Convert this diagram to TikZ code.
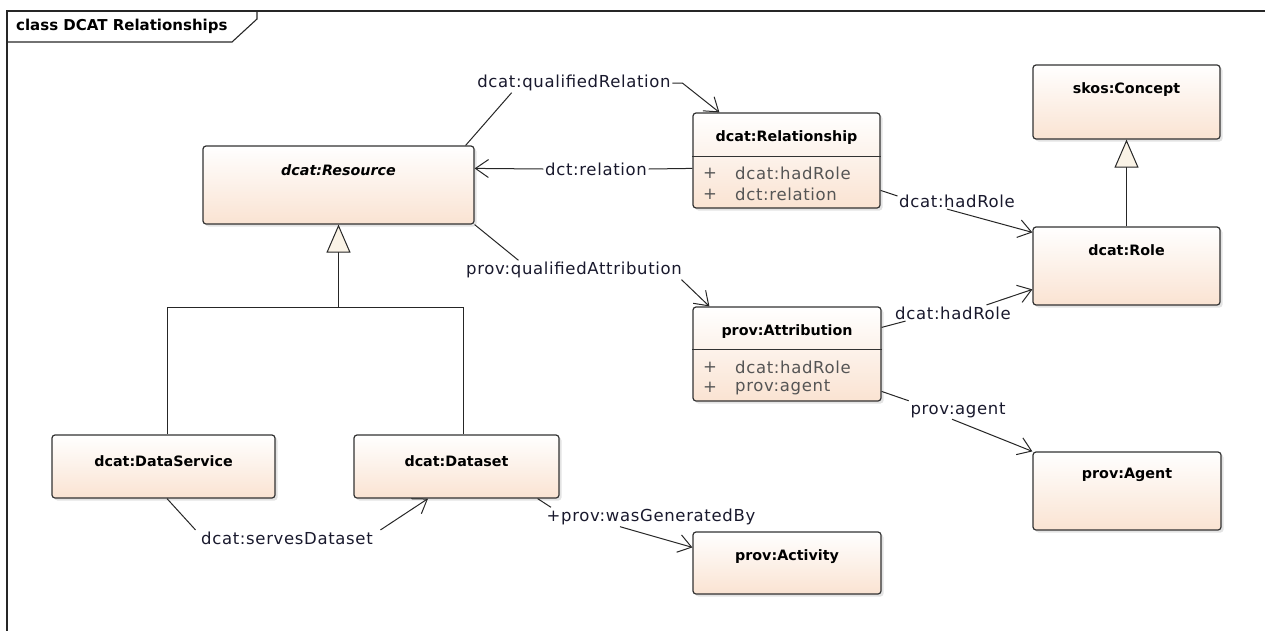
\documentclass[tikz,border=0pt]{standalone}
\usepackage{fontspec}
\setmainfont{DejaVu Sans}
\newfontfamily\lblfont[LetterSpace=4]{DejaVu Sans}
\usepackage{xcolor}
\usetikzlibrary{arrows.meta,shadows,positioning}

\definecolor{clsfill}{RGB}{250,227,210}
\definecolor{clsline}{RGB}{50,50,50}
\definecolor{attrgray}{RGB}{85,85,85}
\definecolor{gencream}{RGB}{250,243,230}
\definecolor{lbltext}{RGB}{25,25,45}

\tikzset{
  cls/.style={draw=clsline, line width=1.2pt, rounded corners=3pt, inner sep=0pt,
    top color=white, bottom color=clsfill,
    drop shadow={shadow xshift=2.5pt, shadow yshift=-2.5pt, opacity=0.22}},
  ctitle/.style={font=\fontsize{14.3}{16}\selectfont\bfseries, inner sep=0pt},
  attrtext/.style={font=\lblfont\fontsize{16.5}{19}\selectfont, text=attrgray, inner sep=0pt, anchor=west},
  lbl/.style={font=\lblfont\fontsize{16.5}{19}\selectfont, text=lbltext, inner sep=1.5pt},
  assoc/.style={draw=black!85, line width=1pt},
  arr/.style={assoc, -{Straight Barb[length=13pt, width=18pt, line width=1pt]}},
  gen/.style={draw=black!85, line width=1pt, -{Triangle[length=28pt, width=24pt, fill=gencream, line width=1pt]}}
}

\begin{document}
\begin{tikzpicture}[x=1pt, y=-1pt]
  \useasboundingbox (0,0) rectangle (1265,630);

  % frame
  \draw[line width=1.1pt, draw=black!85] (7,645) -- (7,11) -- (1275,11);
  \draw[line width=1.1pt, draw=black!85] (7,42) -- (232,42) -- (257,19) -- (257,11);
  \node[ctitle, font=\fontsize{15}{17}\selectfont\bfseries, anchor=west] (frametitle) at (16,26) {class DCAT Relationships};

  % classes
  \node[cls, minimum width=271, minimum height=78] (res) at (338.5,185) {};
  \node[ctitle] (resT) at (338.5,170) {\itshape dcat:Resource};

  \node[cls, minimum width=187, minimum height=95] (rel) at (786.5,160.5) {};
  \node[ctitle] (relT) at (786.5,138) {dcat:Relationship};
  \draw[draw=clsline, line width=1.2pt] ([yshift=-44pt]rel.north west) -- ([yshift=-44pt]rel.north east);
  \node[attrtext] (relP1) at (703,173) {+};
  \node[attrtext] (relA1) at (735,173) {dcat:hadRole};
  \node[attrtext] (relP2) at (703,194) {+};
  \node[attrtext] (relA2) at (735,194) {dct:relation};

  \node[cls, minimum width=187, minimum height=74] (concept) at (1126.5,102) {};
  \node[ctitle] (conceptT) at (1126.5,90) {skos:Concept};

  \node[cls, minimum width=187, minimum height=78] (role) at (1126.5,266) {};
  \node[ctitle] (roleT) at (1126.5,250) {dcat:Role};

  \node[cls, minimum width=188, minimum height=94] (attr) at (787,354) {};
  \node[ctitle] (attrT) at (787,332) {prov:Attribution};
  \draw[draw=clsline, line width=1.2pt] ([yshift=-43pt]attr.north west) -- ([yshift=-43pt]attr.north east);
  \node[attrtext] (attrP1) at (703,367) {+};
  \node[attrtext] (attrA1) at (735,367) {dcat:hadRole};
  \node[attrtext] (attrP2) at (703,387) {+};
  \node[attrtext] (attrA2) at (735,387) {prov:agent};

  \node[cls, minimum width=188, minimum height=78] (agent) at (1127,491) {};
  \node[ctitle] (agentT) at (1127,475) {prov:Agent};

  \node[cls, minimum width=188, minimum height=62] (act) at (787,563) {};
  \node[ctitle] (actT) at (787,557) {prov:Activity};

  \node[cls, minimum width=223, minimum height=63] (dsvc) at (163.5,466.5) {};
  \node[ctitle] (dsvcT) at (163.5,461) {dcat:DataService};

  \node[cls, minimum width=205, minimum height=63] (dset) at (456.5,466.5) {};
  \node[ctitle] (dsetT) at (456.5,461) {dcat:Dataset};

  % generalizations
  \coordinate (genbar) at (338.5,307);
  \draw[gen] ([xshift=3.5pt]dsvc.north) |- (genbar) -- (res.south);
  \draw[gen, -] ([xshift=6.5pt]dset.north) |- (genbar);
  \draw[gen] (role.north) -- (concept.south);

  % associations
  \node[lbl] (qrel) at (574,83) {dcat:qualifiedRelation};
  \draw[assoc] ([xshift=-9pt]res.north east) -- ([xshift=36pt]qrel.south west);
  \draw[arr] (qrel.east) -- ++(10,0) -- ([xshift=27pt]rel.north west);

  \node[lbl] (drel) at (596,169) {dct:relation};
  \draw[assoc] ([yshift=-56pt]rel.north west) -- (drel.east);
  \draw[arr] (drel.west) -- ([yshift=-23pt]res.north east);

  \node[lbl] (qatt) at (574,270) {prov:qualifiedAttribution};
  \draw[assoc] (res.south east) -- ([xshift=54pt]qatt.north west);
  \draw[arr] ([xshift=-2pt]qatt.south east) -- ([xshift=17pt]attr.north west);

  \node[lbl] (role1) at (957,201) {dcat:hadRole};
  \draw[assoc] ([yshift=-78pt]rel.north east) -- ([yshift=5pt]role1.west);
  \draw[arr] ([xshift=-10pt]role1.south) -- ([yshift=-6pt]role.north west);

  \node[lbl] (role2) at (953,313) {dcat:hadRole};
  \draw[assoc] ([yshift=-21pt]attr.north east) -- ([xshift=12pt]role2.south west);
  \draw[arr] ([xshift=-26pt]role2.north east) -- ([yshift=-63pt]role.north west);

  \node[lbl] (pag) at (958,410) {prov:agent};
  \draw[assoc] ([yshift=-85pt]attr.north east) -- (pag.north west);
  \draw[arr] ([xshift=-6pt]pag.south) -- (agent.north west);

  \node[lbl] (wgb) at (651,517) {+prov:wasGeneratedBy};
  \draw[assoc] ([xshift=-22pt]dset.south east) -- ([xshift=6pt]wgb.north west);
  \draw[arr] ([xshift=-31pt]wgb.south) -- ([yshift=-16pt]act.north west);

  \node[lbl] (sds) at (287,538) {dcat:servesDataset};
  \draw[assoc] ([xshift=3.5pt]dsvc.south) -- ([xshift=-4pt]sds.north west);
  \draw[arr] ([xshift=6pt]sds.north east) -- ([xshift=-28.5pt]dset.south);
\end{tikzpicture}
\end{document}
